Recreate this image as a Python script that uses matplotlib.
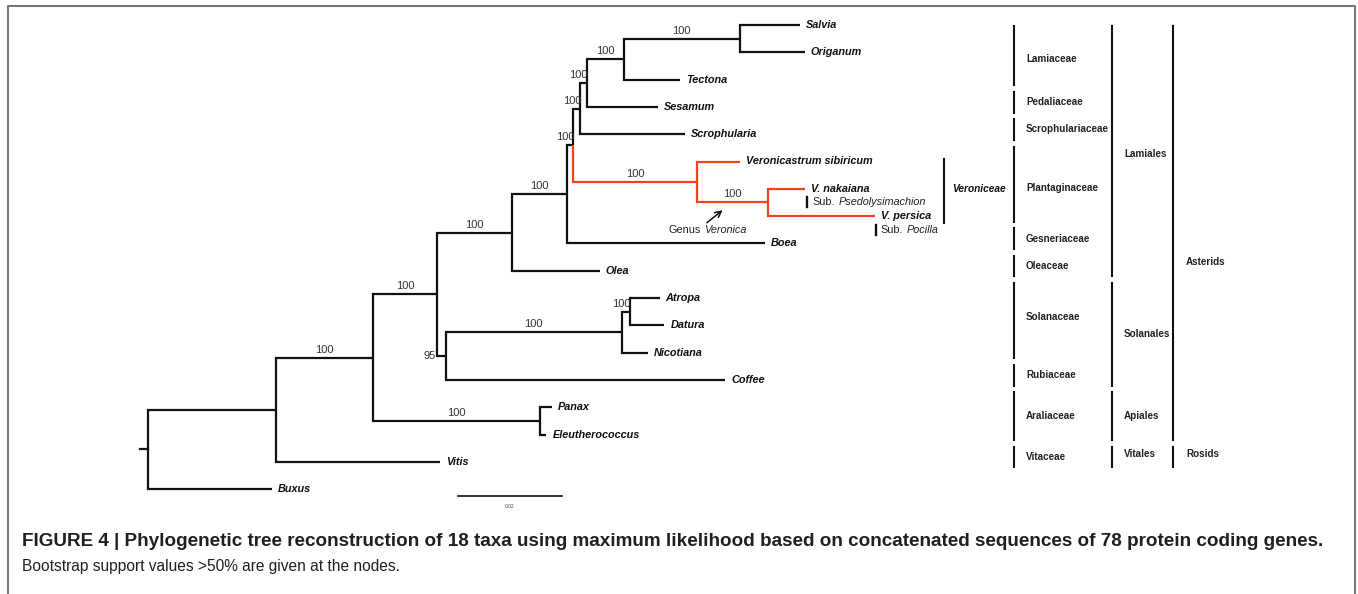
import matplotlib.pyplot as plt

plt.rcParams['font.family'] = ['Liberation Sans', 'DejaVu Sans']

# tips, top to bottom
tip_names = ["Salvia", "Origanum", "Tectona", "Sesamum", "Scrophularia",
             "Veronicastrum sibiricum", "V. nakaiana", "V. persica", "Boea",
             "Olea", "Atropa", "Datura", "Nicotiana", "Coffee", "Panax",
             "Eleutherococcus", "Vitis", "Buxus"]

# tree edges: node, parent, branch length (subst./site), bootstrap
node_names = ["Buxus", "n1", "Vitis", "n2", "n3", "n4", "Panax", "Eleutherococcus",
              "n5", "n6", "n7", "Coffee", "n8", "Nicotiana", "Atropa", "Datura",
              "n9", "Olea", "n10", "Boea", "n11", "n12", "n13", "Scrophularia",
              "n14", "Sesamum", "n15", "Tectona", "Salvia", "Origanum",
              "Veronicastrum sibiricum", "n16", "V. nakaiana", "V. persica"]
node_parent = ["root", "root", "n1", "n1", "n2", "n2", "n4", "n4",
               "n3", "n3", "n6", "n6", "n7", "n7", "n8", "n8",
               "n5", "n5", "n9", "n9", "n10", "n10", "n11", "n11",
               "n13", "n13", "n14", "n14", "n15", "n15",
               "n12", "n12", "n16", "n16"]
node_length = [0.0238, 0.0246, 0.0315, 0.0187, 0.0123, 0.0321, 0.0023, 0.0012,
               0.0144, 0.0017, 0.0338, 0.0537, 0.0015, 0.0050, 0.0058, 0.0067,
               0.0106, 0.0169, 0.0012, 0.0381, 0.0013, 0.0238, 0.0013, 0.0202,
               0.0071, 0.0137, 0.0223, 0.0108, 0.0115, 0.0125,
               0.0083, 0.0137, 0.0071, 0.0205]
node_support = [None, None, None, 100, 100, 100, None, None,
                100, 95, 100, None, 100, None, None, None,
                100, None, 100, None, 100, 100, 100, None,
                100, None, 100, None, None, None,
                None, 100, None, None]

red_clade_root = "n12"   # tribe Veroniceae
side_label_nodes = ["n6"]

# classification columns: (label, first tip, last tip)
families = [("Lamiaceae", "Salvia", "Tectona"), ("Pedaliaceae", "Sesamum", "Sesamum"),
            ("Scrophulariaceae", "Scrophularia", "Scrophularia"),
            ("Plantaginaceae", "Veronicastrum sibiricum", "V. persica"),
            ("Gesneriaceae", "Boea", "Boea"), ("Oleaceae", "Olea", "Olea"),
            ("Solanaceae", "Atropa", "Nicotiana"), ("Rubiaceae", "Coffee", "Coffee"),
            ("Araliaceae", "Panax", "Eleutherococcus"), ("Vitaceae", "Vitis", "Vitis")]
orders = [("Lamiales", "Salvia", "Olea"), ("Solanales", "Atropa", "Coffee"),
          ("Apiales", "Panax", "Eleutherococcus"), ("Vitales", "Vitis", "Vitis")]
clades = [("Asterids", "Salvia", "Eleutherococcus"), ("Rosids", "Vitis", "Vitis")]

caption_title = ("FIGURE 4 | Phylogenetic tree reconstruction of 18 taxa using maximum "
                 "likelihood based on concatenated sequences of 78 protein coding genes.")
caption_text = "Bootstrap support values >50% are given at the nodes."

scale_len = 0.02

# ---- layout (pixel space) ----
W, H = 1358, 594
root_x, top_y, tip_step = 148, 25, 27.3
px_per_unit = 5200
RED = '#f2411f'
INK = '#111111'

fig = plt.figure(figsize=(W / 100, H / 100), dpi=100)
ax = fig.add_axes([0, 0, 1, 1])
ax.set_xlim(0, W)
ax.set_ylim(H, 0)
ax.axis('off')

parent = dict(zip(node_names, node_parent))
length = dict(zip(node_names, node_length))
support = dict(zip(node_names, node_support))
children = {}
for n, p in zip(node_names, node_parent):
    children.setdefault(p, []).append(n)

xs = {"root": root_x}
def set_x(n):
    for c in children.get(n, []):
        xs[c] = xs[n] + length[c] * px_per_unit
        set_x(c)
set_x("root")

ys = {t: top_y + i * tip_step for i, t in enumerate(tip_names)}
def set_y(n):
    if n in ys:
        return ys[n]
    cy = [set_y(c) for c in children[n]]
    ys[n] = (min(cy) + max(cy)) / 2
    return ys[n]
set_y("root")

def in_red(n):
    while n != "root":
        if n == red_clade_root:
            return True
        n = parent[n]
    return False

# branches (elbow style)
for n in node_names:
    p = parent[n]
    col = RED if in_red(n) else INK
    ax.plot([xs[p], xs[p], xs[n]], [ys[p], ys[n], ys[n]], color=col, lw=1.6,
            solid_capstyle='butt', solid_joinstyle='miter')
ax.plot([root_x - 8, root_x], [ys["root"], ys["root"]], color=INK, lw=1.6)

# tip labels
for t in tip_names:
    ax.text(xs[t] + 6, ys[t], t, fontsize=7.8, fontweight='bold', style='italic',
            va='center', ha='left', color=INK)

# bootstrap values
BS = dict(fontsize=8, color='#333333')
for n in node_names:
    s = support[n]
    if s is None:
        continue
    p = parent[n]
    blen = xs[n] - xs[p]
    if n in side_label_nodes:
        ax.text(xs[p] - 1, ys[n], str(s), ha='right', va='center', **BS)
    elif blen > 30:
        ax.text((xs[p] + xs[n]) / 2, ys[n] - 3, str(s), ha='center', va='bottom', **BS)
    else:
        ax.text(xs[n] + 1, ys[n] - 3, str(s), ha='right', va='bottom', **BS)

# subgenus notes
def sub_note(tip, name, dx):
    x0, y0 = xs[tip] + dx, ys[tip] + 13.5
    ax.plot([x0, x0], [y0 - 5, y0 + 5], color=INK, lw=1.7)
    t1 = ax.text(x0 + 5, y0, "Sub.", fontsize=7.8, va='center', ha='left', color='#222222')
    ax.annotate(name, xy=(1, 0.5), xycoords=t1, xytext=(2.5, 0), textcoords='offset points',
                fontsize=7.8, style='italic', va='center', ha='left', color='#222222')
sub_note("V. nakaiana", "Psedolysimachion", 2)
sub_note("V. persica", "Pocilla", 1)

# genus Veronica arrow
mid_x = (xs["n12"] + xs["n16"]) / 2
head = (mid_x - 8, ys["n16"] + 6)
ax.annotate("", xy=head, xytext=(head[0] - 20, head[1] + 16),
            arrowprops=dict(arrowstyle='->', color=INK, lw=1.1, mutation_scale=11))
g1 = ax.text(head[0] - 56, head[1] + 22, "Genus", fontsize=7.8, va='center', ha='left',
             color='#222222')
ax.annotate("Veronica", xy=(1, 0.5), xycoords=g1, xytext=(2.5, 0), textcoords='offset points',
            fontsize=7.8, style='italic', va='center', ha='left', color='#222222')

# Veroniceae tribe bar
vy0, vy1 = ys["Veronicastrum sibiricum"] - 3, ys["V. persica"] + 7
ax.plot([944, 944], [vy0, vy1], color=INK, lw=1.5)
ax.text(952, (ys["Veronicastrum sibiricum"] + ys["V. persica"]) / 2, "Veroniceae",
        fontsize=7.3, fontweight='bold', style='italic', va='center', ha='left', color=INK)

# classification columns
def column(groups, bar_x, label_x, shifts=None):
    for i, (name, first, last) in enumerate(groups):
        y0 = max(ys[first] - 15, top_y + 1)
        y1 = ys[last] + 5.6
        ax.plot([bar_x, bar_x], [y0, y1], color=INK, lw=1.5)
        ly = (y0 + y1) / 2 + (shifts[i] if shifts else 0)
        ax.text(label_x, ly, name, fontsize=7.1, fontweight='bold',
                va='center', ha='left', color='#222222')
column(families, 1014, 1026, [3, 0, 0, 4, 0, 0, -4, 0, 0, 0])
column(orders, 1112, 1124, [3, 0, 0, -3])
column(clades, 1173, 1186, [29, -3])

# scale bar
sb_x, sb_y = 458, 496
ax.plot([sb_x, sb_x + scale_len * px_per_unit], [sb_y, sb_y], color=INK, lw=1.2)
ax.text(sb_x + scale_len * px_per_unit / 2, sb_y + 10, f"{scale_len:.2f}", fontsize=3.5,
        ha='center', va='center', color='#444444')

# caption
ax.text(22, 541, caption_title, fontsize=13.6, fontweight='bold', va='center', ha='left',
        color='#231f20')
ax.text(22, 566, caption_text, fontsize=11.2, va='center', ha='left', color='#231f20')

# frame (top, left, right)
ax.plot([7.5, 7.5, 1355, 1355], [H, 6, 6, H], color='#777777', lw=1.5)

fig.savefig("out.png", dpi=100)
